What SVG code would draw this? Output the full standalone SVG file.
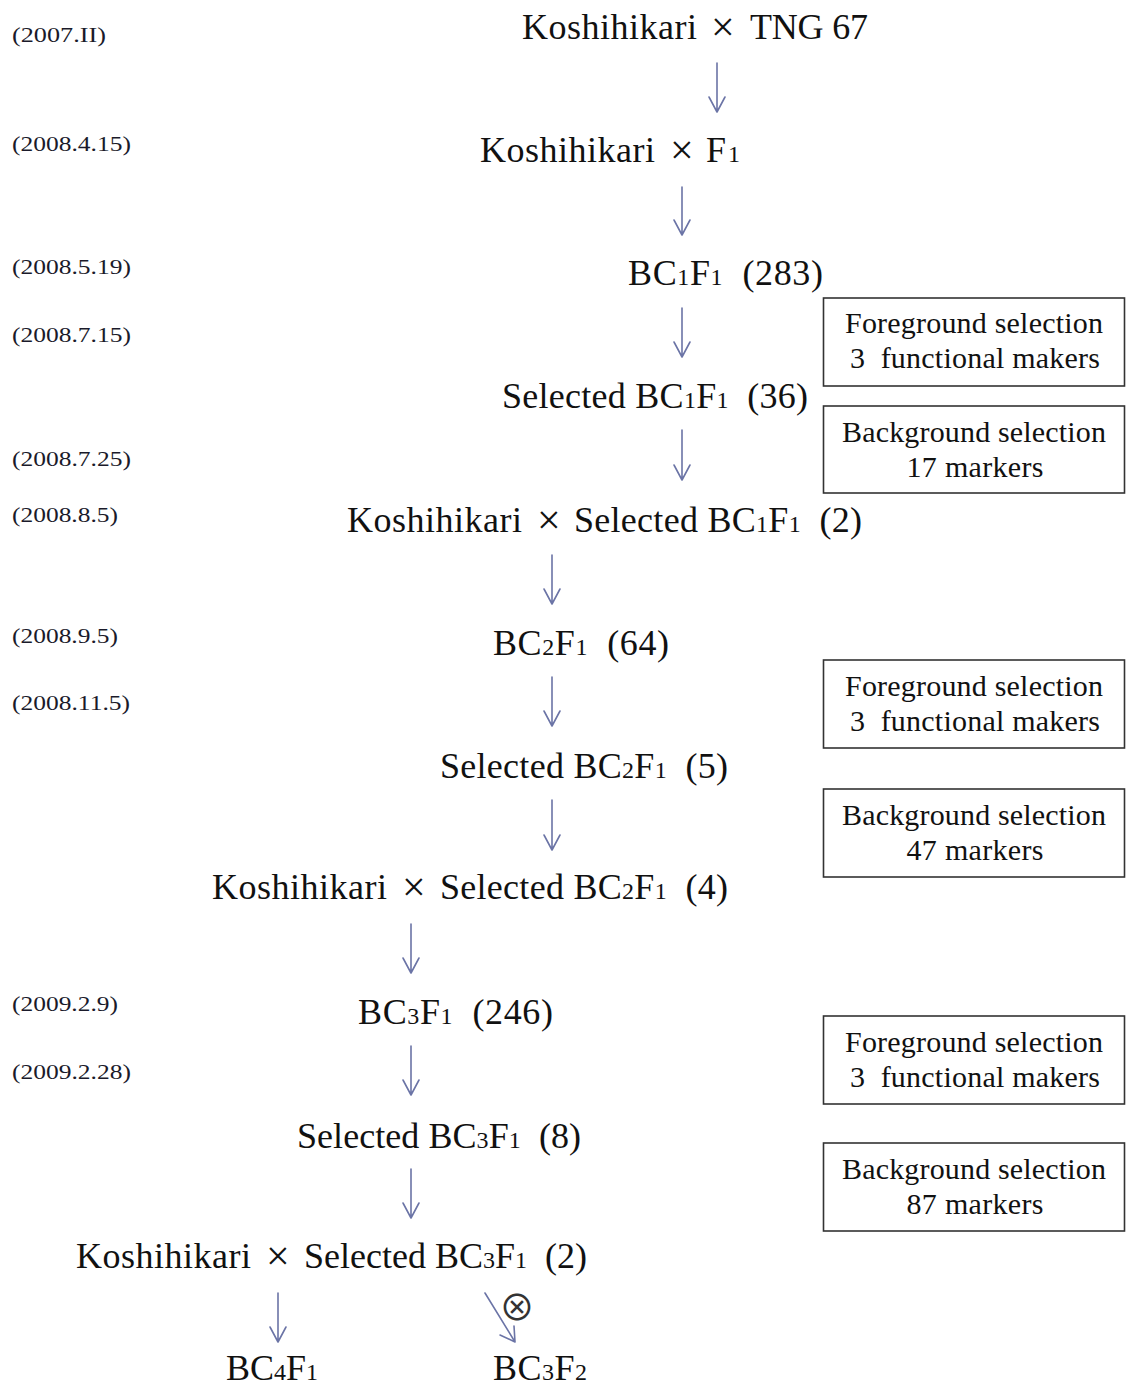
<svg xmlns="http://www.w3.org/2000/svg" width="1126" height="1389" viewBox="0 0 1126 1389">
<style>
text { font-family: "Liberation Serif", "Times New Roman", serif; fill: #111; white-space: pre; }
.m { font-size: 36px; }
.s { font-size: 24px; }
.x { font-size: 42px; }
.d { font-size: 22px; fill: #1a1a2a; }
.b { font-size: 30px; text-anchor: middle; }
.box { fill: #fff; stroke: #333; stroke-width: 1.6; }
.arr { fill: none; stroke: #6b74a6; stroke-width: 1.6; stroke-linecap: round; stroke-linejoin: round; }
.ot { font-family: "Noto Sans CJK JP", "DejaVu Sans", sans-serif; font-weight: 400; font-size: 36px; fill: #333; }
</style>
<rect width="1126" height="1389" fill="#fff"/>

<g id="dates">
<text class="d" x="12" y="42" textLength="94" lengthAdjust="spacingAndGlyphs">(2007.II)</text>
<text class="d" x="12" y="151" textLength="119" lengthAdjust="spacingAndGlyphs">(2008.4.15)</text>
<text class="d" x="12" y="274" textLength="119" lengthAdjust="spacingAndGlyphs">(2008.5.19)</text>
<text class="d" x="12" y="342" textLength="119" lengthAdjust="spacingAndGlyphs">(2008.7.15)</text>
<text class="d" x="12" y="466" textLength="119" lengthAdjust="spacingAndGlyphs">(2008.7.25)</text>
<text class="d" x="12" y="522" textLength="106" lengthAdjust="spacingAndGlyphs">(2008.8.5)</text>
<text class="d" x="12" y="643" textLength="106" lengthAdjust="spacingAndGlyphs">(2008.9.5)</text>
<text class="d" x="12" y="710" textLength="118" lengthAdjust="spacingAndGlyphs">(2008.11.5)</text>
<text class="d" x="12" y="1011" textLength="106" lengthAdjust="spacingAndGlyphs">(2009.2.9)</text>
<text class="d" x="12" y="1079" textLength="119" lengthAdjust="spacingAndGlyphs">(2009.2.28)</text>
</g>

<g id="n1">
<text class="m" x="522" y="39" textLength="175">Koshihikari</text>
<text class="x" x="711" y="41">×</text>
<text class="m" x="750" y="39" textLength="118">TNG 67</text>
</g>
<g id="n2">
<text class="m" x="480" y="162" textLength="175">Koshihikari</text>
<text class="x" x="670" y="164">×</text>
<text class="m" x="706" y="162" textLength="34">F<tspan class="s">1</tspan></text>
</g>
<g id="n3">
<text class="m" x="628" y="285" textLength="195">BC<tspan class="s">1</tspan>F<tspan class="s">1</tspan>  (283)</text>
</g>
<g id="n4">
<text class="m" x="502" y="408" textLength="306">Selected BC<tspan class="s">1</tspan>F<tspan class="s">1</tspan>  (36)</text>
</g>
<g id="n5">
<text class="m" x="347" y="532" textLength="175">Koshihikari</text>
<text class="x" x="537" y="534">×</text>
<text class="m" x="574" y="532" textLength="288">Selected BC<tspan class="s">1</tspan>F<tspan class="s">1</tspan>  (2)</text>
</g>
<g id="n6">
<text class="m" x="493" y="655" textLength="176">BC<tspan class="s">2</tspan>F<tspan class="s">1</tspan>  (64)</text>
</g>
<g id="n7">
<text class="m" x="440" y="778" textLength="288">Selected BC<tspan class="s">2</tspan>F<tspan class="s">1</tspan>  (5)</text>
</g>
<g id="n8">
<text class="m" x="212" y="899" textLength="175">Koshihikari</text>
<text class="x" x="402" y="901">×</text>
<text class="m" x="440" y="899" textLength="288">Selected BC<tspan class="s">2</tspan>F<tspan class="s">1</tspan>  (4)</text>
</g>
<g id="n9">
<text class="m" x="358" y="1024" textLength="195">BC<tspan class="s">3</tspan>F<tspan class="s">1</tspan>  (246)</text>
</g>
<g id="n10">
<text class="m" x="297" y="1148" textLength="284">Selected BC<tspan class="s">3</tspan>F<tspan class="s">1</tspan>  (8)</text>
</g>
<g id="n11">
<text class="m" x="76" y="1268" textLength="175">Koshihikari</text>
<text class="x" x="266" y="1270">×</text>
<text class="m" x="304" y="1268" textLength="283">Selected BC<tspan class="s">3</tspan>F<tspan class="s">1</tspan>  (2)</text>
</g>
<g id="n12">
<text class="m" x="226" y="1380" textLength="92">BC<tspan class="s">4</tspan>F<tspan class="s">1</tspan></text>
</g>
<g id="n13">
<text class="m" x="493" y="1380" textLength="94">BC<tspan class="s">3</tspan>F<tspan class="s">2</tspan></text>
</g>

<g id="box1">
<rect class="box" x="823.5" y="298" width="301" height="88"/>
<text class="b" x="974" y="333" textLength="258">Foreground selection</text>
<text class="b" x="975" y="368" textLength="250">3  functional makers</text>
</g>
<g id="box2">
<rect class="box" x="823.5" y="406" width="301" height="87"/>
<text class="b" x="974" y="442" textLength="264">Background selection</text>
<text class="b" x="975" y="477" textLength="137">17 markers</text>
</g>
<g id="box3">
<rect class="box" x="823.5" y="660" width="301" height="88"/>
<text class="b" x="974" y="696" textLength="258">Foreground selection</text>
<text class="b" x="975" y="731" textLength="250">3  functional makers</text>
</g>
<g id="box4">
<rect class="box" x="823.5" y="789" width="301" height="88"/>
<text class="b" x="974" y="825" textLength="264">Background selection</text>
<text class="b" x="975" y="860" textLength="137">47 markers</text>
</g>
<g id="box5">
<rect class="box" x="823.5" y="1016" width="301" height="88"/>
<text class="b" x="974" y="1052" textLength="258">Foreground selection</text>
<text class="b" x="975" y="1087" textLength="250">3  functional makers</text>
</g>
<g id="box6">
<rect class="box" x="823.5" y="1143" width="301" height="88"/>
<text class="b" x="974" y="1179" textLength="264">Background selection</text>
<text class="b" x="975" y="1214" textLength="137">87 markers</text>
</g>

<g id="connectors">
<path class="arr" d="M717 63V112M709 97L717 112L725 97"/>
<path class="arr" d="M682 187V235M674 220L682 235L690 220"/>
<path class="arr" d="M682 308V357M674 342L682 357L690 342"/>
<path class="arr" d="M682 430V480M674 465L682 480L690 465"/>
<path class="arr" d="M552 555V604M544 589L552 604L560 589"/>
<path class="arr" d="M552 677V726M544 711L552 726L560 711"/>
<path class="arr" d="M552 800V850M544 835L552 850L560 835"/>
<path class="arr" d="M411 924V973M403 958L411 973L419 958"/>
<path class="arr" d="M411 1046V1095M403 1080L411 1095L419 1080"/>
<path class="arr" d="M411 1169V1218M403 1203L411 1218L419 1203"/>
<path class="arr" d="M278 1293V1342M270 1327L278 1342L286 1327"/>
<path class="arr" d="M485 1293L515 1342M500 1335L515 1342L514 1326"/>
</g>
<g id="selfing">
<text class="ot" x="517" y="1321" text-anchor="middle">⊗</text>
</g>
</svg>
